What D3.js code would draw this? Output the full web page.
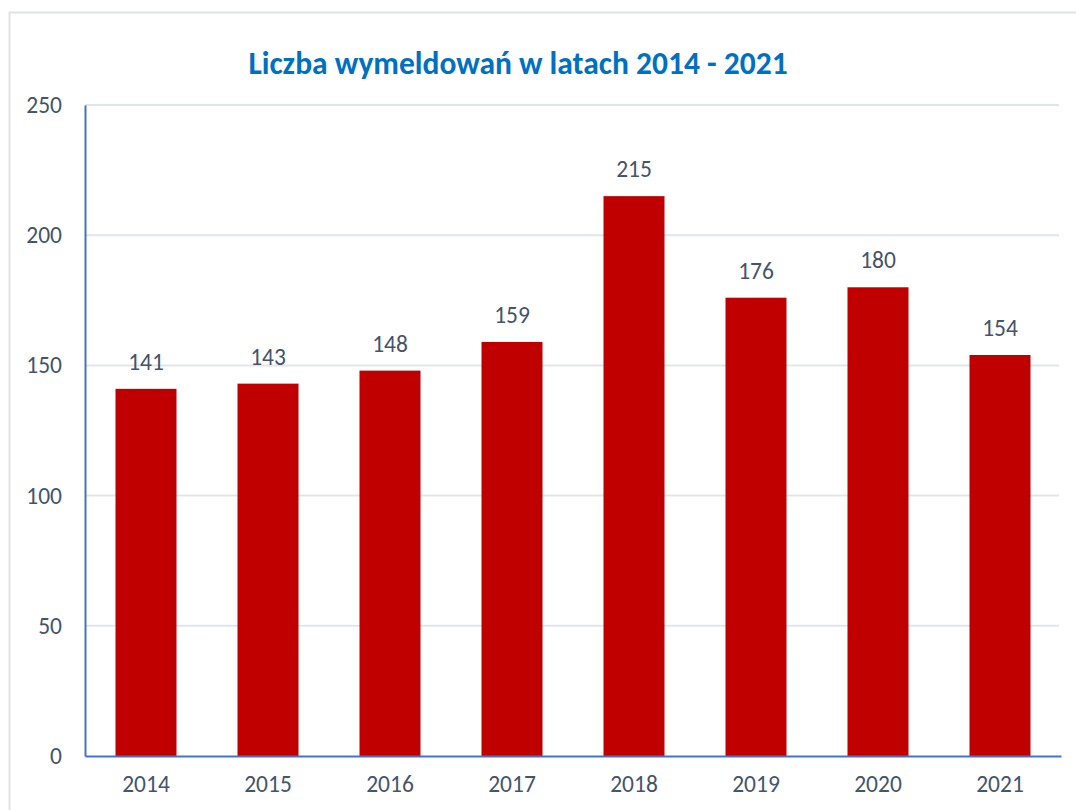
<!DOCTYPE html>
<html><head><meta charset="utf-8">
<script src="https://cdn.jsdelivr.net/npm/d3@7"></script>
<style>body{margin:0;background:#fff;} svg{display:block;}</style>
</head><body>
<svg id="c" width="1076" height="810"></svg>
<script>
const categories = ["2014","2015","2016","2017","2018","2019","2020","2021"];
const values = [141,143,148,159,215,176,180,154];
const yTicks = [0,50,100,150,200,250];
const title = "Liczba wymeldowań w latach 2014 - 2021";

const svg = d3.select("#c");
const font = "Calibri, Carlito, 'Open Sans', 'Liberation Sans', sans-serif";
const m = {left:85, right:1061, top:105, bottom:756};

// outer border
svg.append("rect").attr("x",9.5).attr("y",12.5).attr("width",1100).attr("height",900)
  .attr("fill","none").attr("stroke","#dfe3e8").attr("stroke-width",2);

const x = d3.scaleBand().domain(categories).range([m.left,m.right]).paddingInner(0.5).paddingOuter(0.25);
const y = d3.scaleLinear().domain([0,250]).range([m.bottom,m.top]);

// gridlines
svg.append("g").selectAll("line").data(yTicks.filter(d=>d>0)).join("line")
  .attr("x1",m.left).attr("x2",1059).attr("y1",d=>y(d)).attr("y2",d=>y(d))
  .attr("stroke","#e1e5ea").attr("stroke-width",2);

// y axis
const yAxis = svg.append("g").attr("transform",`translate(${m.left},0)`)
  .call(d3.axisLeft(y).tickValues(yTicks).tickSize(0).tickPadding(23));
yAxis.select(".domain").attr("stroke","#4472C4").attr("stroke-width",2);
yAxis.selectAll("text").attr("font-family",font).attr("font-size",23.5).attr("fill","#44546A");

// bars
svg.append("g").selectAll("rect").data(values).join("rect")
  .attr("x",(d,i)=>x(categories[i])).attr("width",x.bandwidth())
  .attr("y",d=>y(d)).attr("height",d=>y(0)-y(d))
  .attr("fill","#C00000");

// x axis
const xAxis = svg.append("g").attr("transform",`translate(0,${m.bottom})`)
  .call(d3.axisBottom(x).tickSize(0).tickPadding(19));
xAxis.select(".domain").attr("stroke","#4472C4").attr("stroke-width",2);
xAxis.selectAll("text").attr("font-family",font).attr("font-size",23.5).attr("fill","#44546A");

// value labels
svg.append("g").selectAll("text").data(values).join("text")
  .attr("x",(d,i)=>x(categories[i])+x.bandwidth()/2).attr("y",d=>y(d)-19)
  .attr("text-anchor","middle").attr("font-family",font).attr("font-size",23.5).attr("fill","#44546A")
  .text(d=>d);

// title
svg.append("text").attr("x",518).attr("y",74).attr("text-anchor","middle")
  .attr("font-family",font).attr("font-size",31.5).attr("font-weight","bold").attr("fill","#0070C0")
  .text(title);
</script>
</body></html>
